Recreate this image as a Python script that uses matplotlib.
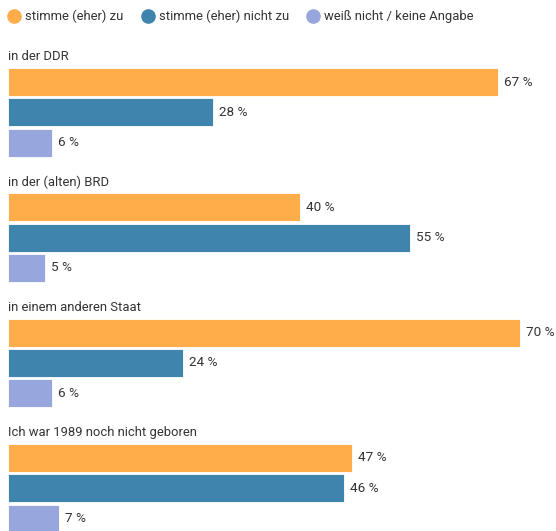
import matplotlib
matplotlib.use("Agg")
import matplotlib.pyplot as plt

plt.rcParams['font.family'] = ['Roboto', 'DejaVu Sans']

groups = ["in der DDR", "in der (alten) BRD", "in einem anderen Staat",
          "Ich war 1989 noch nicht geboren"]
series = ["stimme (eher) zu", "stimme (eher) nicht zu", "weiß nicht / keine Angabe"]
agree = [67, 40, 70, 47]
disagree = [28, 55, 24, 46]
unknown = [6, 5, 6, 7]
colors = ["#FFAD4B", "#3F84AC", "#97A7DD"]

W, H = 556, 531
FS = 9.4
TXT = "#333333"
fig = plt.figure(figsize=(W / 100, H / 100), dpi=100)

# overlay axes in pixel units for legend
lax = fig.add_axes([0, 0, 1, 1])
lax.set_xlim(0, W)
lax.set_ylim(H, 0)
lax.axis("off")
legend_marker_x = [14, 148, 313]
for c, name, mx in zip(colors, series, legend_marker_x):
    lax.plot([mx], [16], marker="o", markersize=9.5, color=c, linestyle="")
    lax.text(mx + 11, 16.5, name, fontsize=FS, color=TXT, va="center", ha="left")

# bar axes: starts at x=8px
left_px = 8
ax = fig.add_axes([left_px / W, 0, 1 - left_px / W, 1])
px_per_pct = 7.31
ax.set_xlim(0, (W - left_px) / px_per_pct)
ax.set_ylim(H, 0)
ax.axis("off")

group_pitch = 125.3
bar_pitch = 30.3
bar_h = 28
first_center = 82

data = [agree, disagree, unknown]
for g, name in enumerate(groups):
    base = first_center + g * group_pitch
    ax.text(0, base - 25, name, fontsize=FS, color=TXT, va="center", ha="left")
    for k in range(3):
        v = data[k][g]
        yc = base + k * bar_pitch
        ax.barh(yc, v, height=bar_h, color=colors[k], edgecolor="white",
                linewidth=0.6)
        ax.text(v + 6 / px_per_pct, yc, f"{v} %", fontsize=FS + 0.3,
                color=TXT, va="center", ha="left")

fig.savefig("out.png", dpi=100, facecolor="white")
